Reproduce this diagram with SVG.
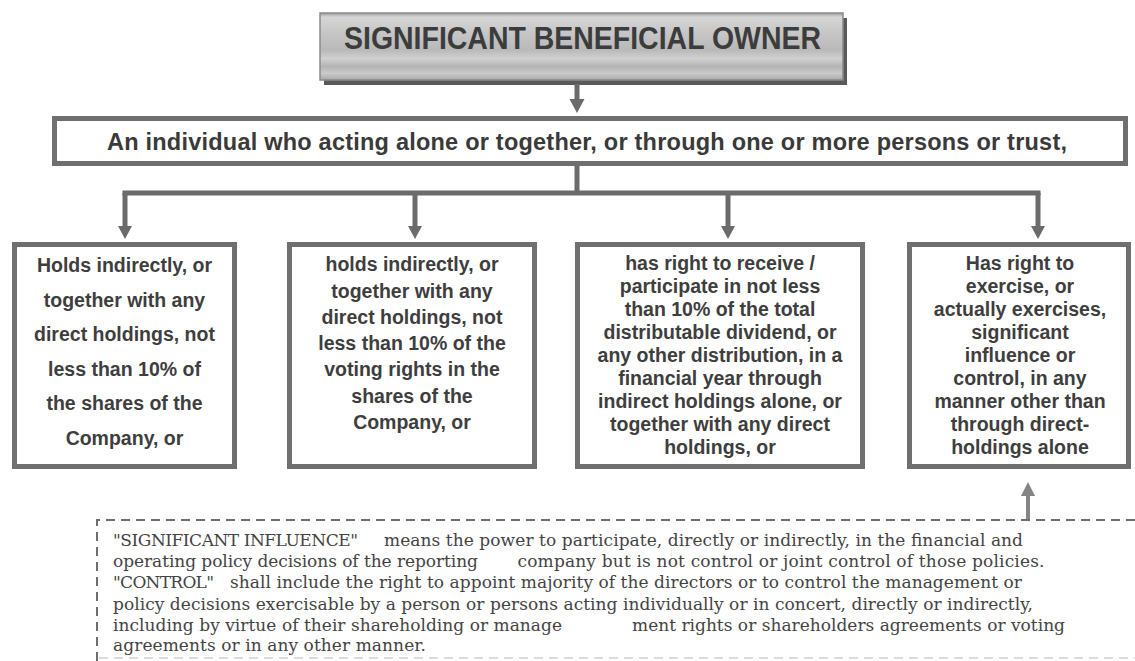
<svg xmlns="http://www.w3.org/2000/svg" width="1135" height="661" viewBox="0 0 1135 661">
<defs>
<linearGradient id="titleGrad" x1="0" y1="0" x2="0" y2="1">
<stop offset="0" stop-color="#9c9c9c"/>
<stop offset="0.06" stop-color="#d6d6d6"/>
<stop offset="0.3" stop-color="#c6c6c6"/>
<stop offset="0.55" stop-color="#b9b9b9"/>
<stop offset="0.68" stop-color="#d0d0d0"/>
<stop offset="0.8" stop-color="#b4b4b4"/>
<stop offset="0.9" stop-color="#cacaca"/>
<stop offset="1" stop-color="#a9a9a9"/>
</linearGradient>
<style>
.box{fill:#ffffff;stroke:#6f6f6f;stroke-width:5}
.conn{stroke:#6b6b6b;stroke-width:5;fill:none}
.head{fill:#6b6b6b}
.bt{font-family:"Liberation Sans",Arial,sans-serif;font-weight:bold;font-size:19.5px;fill:#3e3e3e;text-anchor:middle}
.note{font-family:"DejaVu Serif","Liberation Serif",serif;font-size:17px;fill:#444444}
</style>
</defs>
<rect width="1135" height="661" fill="#ffffff"/>

<g id="title">
<rect x="324" y="18" width="523" height="67" fill="#5a5a5a"/>
<rect x="320" y="13" width="523" height="67" fill="url(#titleGrad)" stroke="#8a8a8a" stroke-width="1.5"/>
<text x="582.5" y="49" font-family="Liberation Sans,Arial,sans-serif" font-weight="bold" font-size="32" fill="#3c3c3c" text-anchor="middle" textLength="477" lengthAdjust="spacingAndGlyphs">SIGNIFICANT BENEFICIAL OWNER</text>
</g>

<g id="individual">
<rect class="box" x="54.5" y="118.5" width="1071" height="45"/>
<text x="587" y="150" font-family="Liberation Sans,Arial,sans-serif" font-weight="bold" font-size="23.5" fill="#3a3a3a" text-anchor="middle" textLength="960">An individual who acting alone or together, or through one or more persons or trust,</text>
</g>

<g id="connectors">
<line class="conn" x1="577" y1="84" x2="577" y2="101"/>
<polygon class="head" points="569.5,99 584.5,99 577,113"/>
<line class="conn" x1="577" y1="166" x2="577" y2="193"/>
<line class="conn" x1="122.5" y1="193" x2="1040.5" y2="193"/>
<line class="conn" x1="125" y1="193" x2="125" y2="228"/>
<polygon class="head" points="118,226 132,226 125,239"/>
<line class="conn" x1="415" y1="193" x2="415" y2="228"/>
<polygon class="head" points="408,226 422,226 415,239"/>
<line class="conn" x1="728" y1="193" x2="728" y2="228"/>
<polygon class="head" points="721,226 735,226 728,239"/>
<line class="conn" x1="1038" y1="193" x2="1038" y2="228"/>
<polygon class="head" points="1031,226 1045,226 1038,239"/>
<line x1="1028" y1="520" x2="1028" y2="494" stroke="#858585" stroke-width="4"/>
<polygon points="1021,496 1035,496 1028,482" fill="#858585"/>
</g>

<g id="box1">
<rect class="box" x="14.5" y="244.5" width="220" height="222"/>
<text class="bt"><tspan x="124.5" y="272">Holds indirectly, or</tspan><tspan x="124.5" y="306.5">together with any</tspan><tspan x="124.5" y="341">direct holdings, not</tspan><tspan x="124.5" y="375.5">less than 10% of</tspan><tspan x="124.5" y="410">the shares of the</tspan><tspan x="124.5" y="444.5">Company, or</tspan></text>
</g>

<g id="box2">
<rect class="box" x="289.5" y="244.5" width="245" height="222"/>
<text class="bt"><tspan x="412" y="271">holds indirectly, or</tspan><tspan x="412" y="297.5">together with any</tspan><tspan x="412" y="323.5">direct holdings, not</tspan><tspan x="412" y="350">less than 10% of the</tspan><tspan x="412" y="376">voting rights in the</tspan><tspan x="412" y="402.5">shares of the</tspan><tspan x="412" y="429">Company, or</tspan></text>
</g>

<g id="box3">
<rect class="box" x="577.5" y="244.5" width="285" height="222"/>
<text class="bt"><tspan x="720" y="270">has right to receive /</tspan><tspan x="720" y="293">participate in not less</tspan><tspan x="720" y="316">than 10% of the total</tspan><tspan x="720" y="339">distributable dividend, or</tspan><tspan x="720" y="362">any other distribution, in a</tspan><tspan x="720" y="385">financial year through</tspan><tspan x="720" y="408">indirect holdings alone, or</tspan><tspan x="720" y="431">together with any direct</tspan><tspan x="720" y="454">holdings, or</tspan></text>
</g>

<g id="box4">
<rect class="box" x="909.5" y="244.5" width="219" height="222"/>
<text class="bt"><tspan x="1020" y="270">Has right to</tspan><tspan x="1020" y="293">exercise, or</tspan><tspan x="1020" y="316">actually exercises,</tspan><tspan x="1020" y="339">significant</tspan><tspan x="1020" y="362">influence or</tspan><tspan x="1020" y="385">control, in any</tspan><tspan x="1020" y="408">manner other than</tspan><tspan x="1020" y="431">through direct-</tspan><tspan x="1020" y="454">holdings alone</tspan></text>
</g>

<g id="definitions">
<path d="M1135,520 H97 V661" fill="none" stroke="#6e6e6e" stroke-width="2" stroke-dasharray="9 6"/>
<line x1="99" y1="658" x2="1135" y2="658" stroke="#cfcfcf" stroke-width="1.5" stroke-dasharray="9 6"/>
<text class="note" x="113" y="546" textLength="245">"SIGNIFICANT INFLUENCE"</text>
<text class="note" x="384" y="546" textLength="639">means the power to participate, directly or indirectly, in the financial and</text>
<text class="note" x="113" y="567" textLength="365">operating policy decisions of the reporting</text>
<text class="note" x="517.5" y="567" textLength="527">company but is not control or joint control of those policies.</text>
<text class="note" x="113" y="588" textLength="101">"CONTROL"</text>
<text class="note" x="230" y="588" textLength="792">shall include the right to appoint majority of the directors or to control the management or</text>
<text class="note" x="113" y="609.5" textLength="920">policy decisions exercisable by a person or persons acting individually or in concert, directly or indirectly,</text>
<text class="note" x="113" y="630.5" textLength="449">including by virtue of their shareholding or manage</text>
<text class="note" x="632" y="630.5" textLength="433">ment rights or shareholders agreements or voting</text>
<text class="note" x="113" y="651" textLength="313">agreements or in any other manner.</text>
</g>
</svg>
